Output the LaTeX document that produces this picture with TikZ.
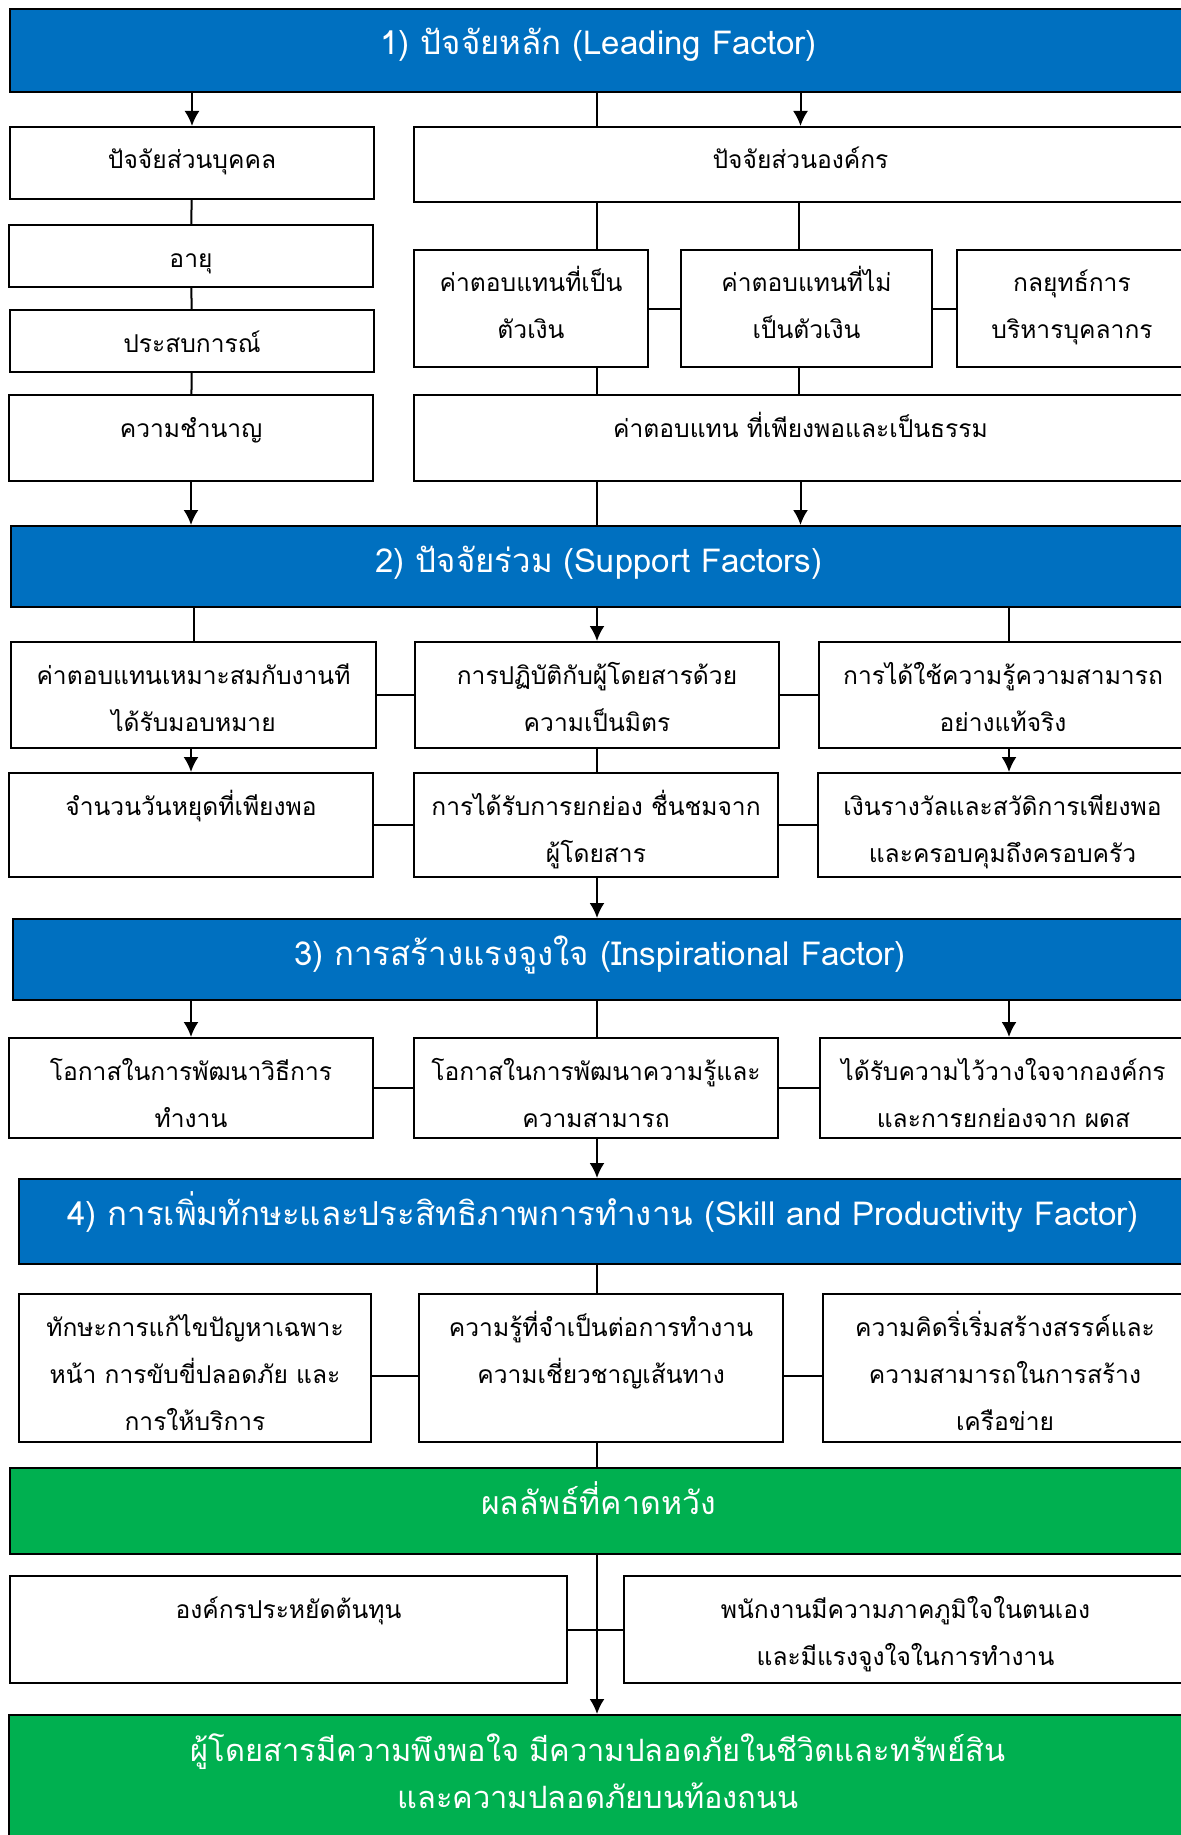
\documentclass[tikz,border=0pt]{standalone}
\usepackage{fontspec}
\usepackage{xcolor}
\usepackage{tikz}
\usetikzlibrary{arrows.meta,positioning}
\setmainfont[Script=Thai]{Loma}
\definecolor{headblue}{HTML}{0070C0}
\definecolor{headgreen}{HTML}{00B050}

\tikzset{
  box/.style 2 args={draw, fill=white, line width=1pt, anchor=north west, inner sep=0pt,
    text width=#1, text depth=#2, text height=21pt, align=center,
    font=\fontsize{12.3}{23.5}\selectfont},
  head/.style 2 args={box={#1}{#2}, fill=headblue, text=white, text height=23pt,
    font=\fontsize{16.5}{23.5}\selectfont},
  result/.style 2 args={head={#1}{#2}, fill=headgreen},
  link/.style={line width=1pt},
}

\begin{document}
\begin{tikzpicture}[x=0.5pt, y=-0.5pt, >={Latex[length=7.5pt,width=7.5pt]}]
        \useasboundingbox (0,0) rectangle (1181,1835);
        \coordinate (mid) at (597,0);
        \coordinate (rcol) at (1009,0);

        % 1) leading factor
        \node[head={588.5pt}{18.5pt}] (B1) at (9,8) {1) ปัจจัยหลัก (Leading Factor)};
        \node[box={182pt}{15pt}] (P1) at (9,126) {ปัจจัยส่วนบุคคล};
        \node[box={386.5pt}{16.5pt}] (P2) at (413,126) {ปัจจัยส่วนองค์กร};
        \node[box={182pt}{10pt}] (A1) at (8,224) {อายุ};
        \node[box={182pt}{10pt}] (A2) at (9,309) {ประสบการณ์};
        \node[box={182pt}{22pt}] (A3) at (8,394) {ความชำนาญ};
        \node[box={117pt}{37.5pt}] (M1) at (413,249) {ค่าตอบแทนที่เป็น\\ตัวเงิน};
        \node[box={125.5pt}{37.5pt}] (M2) at (680,249) {ค่าตอบแทนที่ไม่\\เป็นตัวเงิน};
        \node[box={115pt}{37.5pt}] (M3) at (956,249) {กลยุทธ์การ\\บริหารบุคลากร};
        \node[box={386.5pt}{22pt}] (M4) at (413,394) {ค่าตอบแทน ที่เพียงพอและเป็นธรรม};

        % 2) support factors
        \node[head={588pt}{17.5pt}] (B2) at (10,525) {2) ปัจจัยร่วม (Support Factors)};
        \node[box={182.5pt}{32pt}] (C1) at (10,641) {ค่าตอบแทนเหมาะสมกับงานที\\ได้รับมอบหมาย};
        \node[box={182pt}{32pt}] (C2) at (414,641) {การปฏิบัติกับผู้โดยสารด้วย\\ความเป็นมิตร};
        \node[box={184pt}{32pt}] (C3) at (818,641) {การได้ใช้ความรู้ความสามารถ\\อย่างแท้จริง};
        \node[box={182pt}{31pt}] (D1) at (8,772) {จำนวนวันหยุดที่เพียงพอ};
        \node[box={182pt}{31pt}] (D2) at (413,772) {การได้รับการยกย่อง ชื่นชมจาก\\ผู้โดยสาร};
        \node[box={184.5pt}{31pt}] (D3) at (817,772) {เงินรางวัลและสวัดิการเพียงพอ\\และครอบคุมถึงครอบครัว};

        % 3) inspirational factor
        \node[head={587pt}{17.5pt}] (B3) at (12,918) {3) การสร้างแรงจูงใจ (Inspirational Factor)};
        \node[box={182pt}{29pt}] (E1) at (8,1037) {โอกาสในการพัฒนาวิธีการ\\ทำงาน};
        \node[box={182pt}{29pt}] (E2) at (413,1037) {โอกาสในการพัฒนาความรู้และ\\ความสามารถ};
        \node[box={183.5pt}{29pt}] (E3) at (819,1037) {ได้รับความไว้วางใจจากองค์กร\\และการยกย่องจาก ผดส};

        % 4) skill and productivity
        \node[head={584pt}{19.5pt}] (B4) at (18,1178) {4) การเพิ่มทักษะและประสิทธิภาพการทำงาน (Skill and Productivity Factor)};
        \node[box={176pt}{53pt}] (F1) at (18,1293) {ทักษะการแก้ไขปัญหาเฉพาะ\\หน้า การขับขี่ปลอดภัย และ\\การให้บริการ};
        \node[box={182pt}{53pt}] (F2) at (418,1293) {ความรู้ที่จำเป็นต่อการทำงาน\\ความเชี่ยวชาญเส้นทาง};
        \node[box={182pt}{53pt}] (F3) at (822,1293) {ความคิดริ่เริ่มสร้างสรรค์และ\\ความสามารถในการสร้าง\\เครือข่าย};

        % results
        \node[result={588.5pt}{20pt}, font=\fontsize{16}{23.5}\selectfont] (G1) at (9,1467) {ผลลัพธ์ที่คาดหวัง};
        \node[box={278.5pt}{32.5pt}] (H1) at (9,1575) {องค์กรประหยัดต้นทุน};
        \node[box={281.5pt}{32.5pt}] (H2) at (623,1575) {พนักงานมีความภาคภูมิใจในตนเอง\\และมีแรงจูงใจในการทำงาน};
        \node[result={589pt}{45pt}, font=\fontsize{15.4}{23.5}\selectfont] (G2) at (8,1714) {ผู้โดยสารมีความพึงพอใจ มีความปลอดภัยในชีวิตและทรัพย์สิน\\และความปลอดภัยบนท้องถนน};

        % connectors, level 1
        \draw[link,->] (B1.south -| P1.north) -- (P1.north);
        \draw[link] (B1.south -| mid) -- (P2.north -| mid);
        \draw[link,->] (B1.south -| P2.north) -- (P2.north);
        \draw[link] (P1) -- (A1);
        \draw[link] (A1) -- (A2);
        \draw[link] (A2) -- (A3);
        \draw[link] (P2.south -| mid) -- (M1.north -| mid);
        \draw[link] (P2.south -| M2.north) ++(-8,0) coordinate (m2top) -- (m2top |- M2.north);
        \draw[link] (M1) -- (M2);
        \draw[link] (M2) -- (M3);
        \draw[link] (M1.south -| mid) -- (M4.north -| mid);
        \draw[link] (M2.south -| m2top) -- (M4.north -| m2top);
        \draw[link,->] (A3.south) -- (A3.south |- B2.north);
        \draw[link] (M4.south -| mid) -- (B2.north -| mid);
        \draw[link,->] (M4.south) -- (M4.south |- B2.north);

        % level 2
        \draw[link] (B2.south -| C1.north) -- (C1.north);
        \draw[link,->] (B2.south -| mid) -- (C2.north -| mid);
        \draw[link] (B2.south -| rcol) -- (C3.north -| rcol);
        \draw[link] (C1) -- (C2);
        \draw[link] (C2) -- (C3);
        \draw[link,->] (C1.south -| D1.north) -- (D1.north);
        \draw[link] (C2.south -| mid) -- (D2.north -| mid);
        \draw[link,->] (C3.south -| rcol) -- (D3.north -| rcol);
        \draw[link] (D1) -- (D2);
        \draw[link] (D2) -- (D3);
        \draw[link,->] (D2.south -| mid) -- (B3.north -| mid);

        % level 3
        \draw[link,->] (B3.south -| E1.north) -- (E1.north);
        \draw[link] (B3.south -| mid) -- (E2.north -| mid);
        \draw[link,->] (B3.south -| rcol) -- (E3.north -| rcol);
        \draw[link] (E1) -- (E2);
        \draw[link] (E2) -- (E3);
        \draw[link,->] (E2.south -| mid) -- (B4.north -| mid);

        % level 4
        \draw[link] (B4.south -| mid) -- (F2.north -| mid);
        \draw[link] ([yshift=-4pt]F1.east) -- ([yshift=-4pt]F2.west);
        \draw[link] ([yshift=-4pt]F2.east) -- ([yshift=-4pt]F3.west);
        \draw[link] (F2.south -| mid) -- (G1.north -| mid);

        % results
        \draw[link] (H1) -- (H2);
        \draw[link,->] (G1.south -| mid) -- (G2.north -| mid);
\end{tikzpicture}
\end{document}
